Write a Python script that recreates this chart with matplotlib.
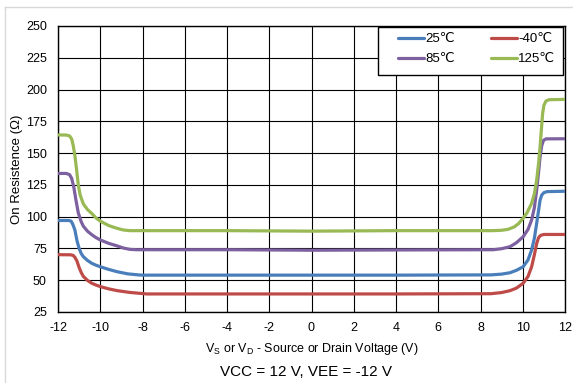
import matplotlib
matplotlib.use("Agg")
import matplotlib.pyplot as plt
from matplotlib.lines import Line2D
from matplotlib.patches import Rectangle

plt.rcParams['font.family'] = ['Liberation Sans', 'DejaVu Sans']
plt.rcParams['mathtext.fontset'] = 'custom'
plt.rcParams['mathtext.rm'] = 'Liberation Sans'
plt.rcParams['axes.unicode_minus'] = False

# Data
v_25 = [-12, -11.5, -11.38, -11.3, -11.2, -11.1, -11.0, -10.9, -10.8, -10.6, -10.4, -10.2, -10.0, -9.6, -9.2, -8.7, -8.2, -8.0,
        -4, 0, 4, 8.5, 9.0, 9.4, 9.7, 10.02, 10.25, 10.42, 10.55, 10.66, 10.75, 10.82, 10.9, 11.0, 11.15, 12]
r_25 = [97, 97, 96.5, 94, 89.5, 81, 75, 71, 68.5, 65.5, 63.3, 61.8, 60.6, 58.5, 56.7, 55, 54.2, 54,
        54, 54, 54, 54.2, 54.8, 55.9, 57.8, 60.6, 66, 73.8, 83, 94.8, 105, 113, 117, 118.9, 119.7, 120]

v_m40 = [-12, -11.4, -11.28, -11.2, -11.1, -11.0, -10.9, -10.8, -10.6, -10.4, -10.2, -10.0, -9.6, -9.2, -8.6, -8.0, -7.8,
         -4, 0, 4, 8.5, 9.0, 9.4, 9.7, 10.02, 10.25, 10.42, 10.55, 10.66, 10.75, 10.85, 11.0, 12]
r_m40 = [70.1, 70, 69.5, 68, 65, 60, 56, 53, 49.8, 47.6, 46.2, 45, 43.2, 41.8, 40.4, 39.5, 39.2,
         39.2, 39.2, 39.2, 39.4, 40.3, 41.8, 43.8, 47.6, 53, 60.6, 70, 79, 83.5, 85.3, 86, 86]

v_85 = [-12, -11.6, -11.45, -11.35, -11.25, -11.15, -11.04, -10.9, -10.8, -10.6, -10.4, -10.2, -10.0, -9.6, -9.2, -8.9, -8.6, -8.3,
        -4, 0, 4, 8.6, 9.0, 9.4, 9.7, 10.02, 10.25, 10.42, 10.55, 10.66, 10.75, 10.82, 10.9, 10.98, 11.1, 12]
r_85 = [134, 134, 133, 130, 123, 113, 103, 96, 92.5, 88.5, 85.8, 83.5, 81.7, 79, 77, 75.3, 74.3, 74,
        74, 73.6, 73.8, 74, 74.8, 76.4, 79.5, 84.2, 90, 97.4, 107, 121, 135, 147, 156, 160, 161.2, 161.3]

v_125 = [-12, -11.6, -11.45, -11.35, -11.28, -11.2, -11.12, -11.04, -10.95, -10.8, -10.6, -10.4, -10.2, -10.0, -9.6, -9.2, -8.9, -8.6,
         -4, 0, 4, 8.6, 9.0, 9.3, 9.6, 9.8, 10.02, 10.2, 10.42, 10.55, 10.66, 10.75, 10.82, 10.88, 10.94, 11.0, 11.1, 11.25, 12]
r_125 = [164.3, 164.2, 163.5, 161, 156, 148, 137, 125, 117, 110, 105.5, 102.5, 99, 96.5, 93, 90.8, 89.5, 89,
         89, 88.6, 89, 89, 89.3, 90, 92, 94.5, 98.8, 103, 110.5, 118, 128.9, 142, 155, 168, 181, 187.5, 191, 192, 192.3]

labels = ['25℃', '-40℃', '85℃', '125℃']
colors = ['#4a7ebb', '#be4b48', '#7d60a0', '#98b954']
x_ticks = list(range(-12, 13, 2))
y_ticks = list(range(25, 251, 25))

W, H = 573, 383
fig = plt.figure(figsize=(W / 100, H / 100), dpi=100)
ax = fig.add_axes([58 / W, 1 - 312 / H, (565 - 58) / W, (312 - 26) / H])

series = [(v_25, r_25), (v_m40, r_m40), (v_85, r_85), (v_125, r_125)]
handles = []
for (xv, yv), lab, c in zip(series, labels, colors):
    h, = ax.plot(xv, yv, color=c, lw=2.3, label=lab, solid_capstyle='round',
                 solid_joinstyle='round', zorder=3)
    handles.append(h)

ax.set_xlim(-12, 12)
ax.set_ylim(25, 250)
ax.set_xticks(x_ticks)
ax.set_yticks(y_ticks)
ax.grid(True, color='black', lw=0.8, zorder=1)
ax.tick_params(length=0, labelsize=9)
ax.tick_params(axis='y', pad=8)
ax.tick_params(axis='x', pad=7)
for s in ax.spines.values():
    s.set_color('black')
    s.set_linewidth(1.0)

ax.set_ylabel('On Resistence (Ω)', fontsize=9.5, labelpad=2)
ax.set_xlabel('V$_\\mathregular{S}$ or V$_\\mathregular{D}$ - Source or Drain Voltage (V)',
              fontsize=9, labelpad=5)
fig.text(306 / W, 1 - 376 / H, 'VCC = 12 V, VEE = -12 V', ha='center', va='baseline', fontsize=11)

# legend frame
ax.add_patch(Rectangle((378 / W, 1 - 75 / H), (563 - 378) / W, (75 - 27) / H,
                       transform=fig.transFigure, facecolor='white', edgecolor='black',
                       lw=1.0, zorder=4, clip_on=False))
order = [0, 2, 1, 3]
leg = ax.legend([handles[i] for i in order], [labels[i] for i in order], ncol=2,
                loc='upper left', bbox_to_anchor=(398 / W, 1 - 33 / H),
                bbox_transform=fig.transFigure,
                borderaxespad=0, borderpad=0, fontsize=9.5, frameon=False,
                handlelength=2.0, handletextpad=0.08, columnspacing=2.7,
                labelspacing=0.6)
leg.set_zorder(5)

# light figure border
fig.add_artist(Line2D([5 / W, 5 / W], [0, 1 - 7 / H], transform=fig.transFigure, color='#d9d9d9', lw=1))
fig.add_artist(Line2D([5 / W, 1], [1 - 7 / H, 1 - 7 / H], transform=fig.transFigure, color='#d9d9d9', lw=1))

fig.savefig('out.png', dpi=100)
